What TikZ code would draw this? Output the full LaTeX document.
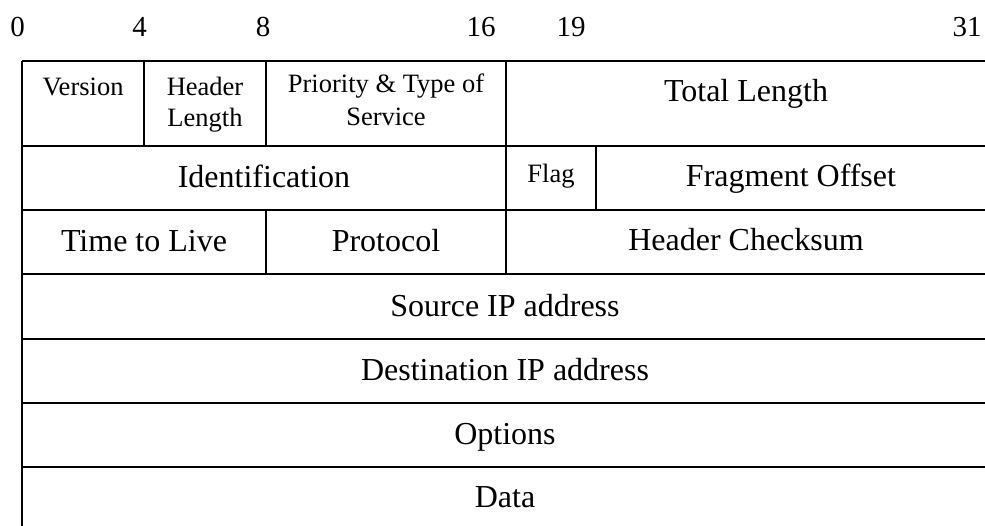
\documentclass[tikz,border=0pt]{standalone}
\usepackage{fontspec}
\setmainfont{Liberation Serif}
\begin{document}
\begin{tikzpicture}[x=1pt,y=-1pt,
  grid/.style={line width=1.8pt,black},
  big/.style={anchor=base,inner sep=0pt,font=\fontsize{32}{38}\selectfont},
  small/.style={anchor=base,inner sep=0pt,font=\fontsize{26.5}{31}\selectfont},
  bitno/.style={anchor=base,inner sep=0pt,font=\fontsize{29}{34}\selectfont}]
\useasboundingbox (0,0) rectangle (985,526);

% bit positions along the top
\node[bitno] (b0)  at (17.5,37) {0};
\node[bitno] (b4)  at (139.5,37) {4};
\node[bitno] (b8)  at (263,37) {8};
\node[bitno] (b16) at (481,37) {16};
\node[bitno] (b19) at (571,37) {19};
\node[bitno] (b31) at (967,37) {31};

% row separators
\foreach \yy in {61,146,210,274,339,403,467}
  \draw[grid] (22,\yy) -- (985,\yy);
% left edge
\draw[grid] (22,61) -- (22,526);
% field separators
\draw[grid] (144,61) -- (144,146);
\draw[grid] (266,61) -- (266,146);
\draw[grid] (266,210) -- (266,274);
\draw[grid] (506,61) -- (506,274);
\draw[grid] (596,146) -- (596,210);

% word 1
\node[small] (ver)  at (83,96) {Version};
\node[small] (hl1)  at (205,96) {Header};
\node[small] (hl2)  at (205,127) {Length};
\node[small] (tos1) at (386,93) {Priority \& Type of};
\node[small] (tos2) at (386,126) {Service};
\node[big]   (tlen) at (746,102) {Total Length};
% word 2
\node[big]   (ident) at (264,188) {Identification};
\node[small] (flag)  at (551,183) {Flag};
\node[big]   (frag)  at (791,187) {Fragment Offset};
% word 3
\node[big] (ttl)   at (144,252) {Time to Live};
\node[big] (proto) at (386,252) {Protocol};
\node[big] (csum)  at (746,251) {Header Checksum};
% remaining words
\node[big] (src)  at (505,317) {Source IP address};
\node[big] (dst)  at (505,381) {Destination IP address};
\node[big] (opt)  at (505,444) {Options};
\node[big] (data) at (505,507) {Data};
\end{tikzpicture}
\end{document}
